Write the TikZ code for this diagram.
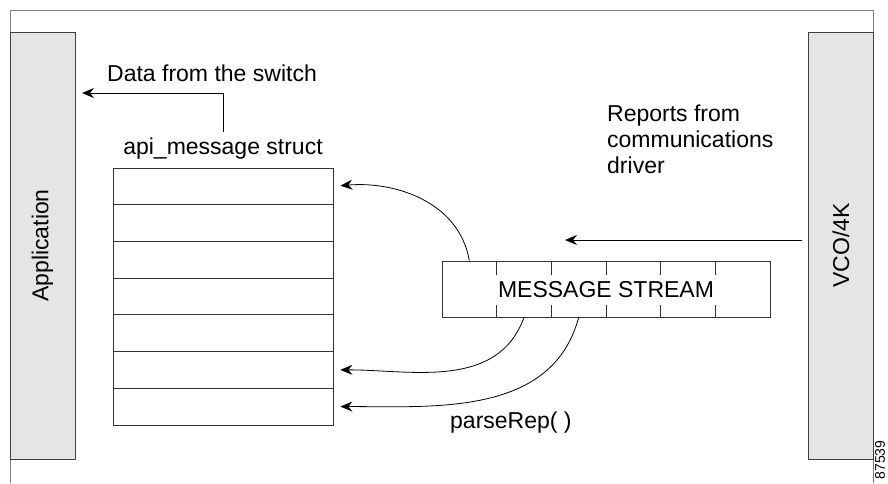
\documentclass[tikz,border=0pt]{standalone}
\usepackage{fontspec}
\setmainfont{Liberation Sans}
\usetikzlibrary{arrows.meta}

\begin{document}
\begin{tikzpicture}[x=1pt,y=1pt,
	txt/.style={font=\fontsize{23}{26}\selectfont, inner sep=0pt},
	side/.style={draw=black!75, fill=black!10, line width=0.8pt, rotate=90,
		minimum width=427pt, minimum height=65pt, inner sep=0pt, font=\fontsize{23}{26}\selectfont},
	row/.style={draw=black!80, line width=0.8pt, minimum width=220pt, minimum height=36.7pt, inner sep=0pt},
	cell/.style={draw=black!80, line width=0.8pt, minimum width=54.67pt, minimum height=56pt, inner sep=0pt},
	flow/.style={-{Stealth[length=12pt,width=10pt,inset=4pt]}, line width=0.8pt}]
	\useasboundingbox (0,0) rectangle (888,483);
	% frame
	\draw[black!50, line width=0.8pt] (10,0) -- (10,473) -- (873,473) -- (873,0);

	\node[side] (app) at (42.5,237.5) {Application};
	\node[side] (vco) at (841,237.5) {VCO/4K};

	% api_message struct
	\node[txt] (lbl) at (223,334) {api\_message struct};
	\foreach \i in {1,...,7}
		\node[row] (r\i) at (223,333.35-36.7*\i) {};
	\node[txt, anchor=base west] (dat) at (107,401) {Data from the switch};
	\coordinate (dtip) at (82,390);
	\draw[flow, shorten <=6pt] (lbl.north) |- (dtip);

	% message stream
	\foreach \i in {1,...,6}
		\node[cell] (c\i) at (442+54.67*\i-27.33,194) {};
	\node[txt, fill=white, inner xsep=2pt, inner ysep=6.7pt] (ms) at (606,193) {MESSAGE STREAM};

	\node[txt, anchor=base west, align=left] (rep) at (607,310) {Reports from\\communications\\driver};
	\coordinate (rtail) at (802,243);
	\coordinate (rtip) at (565,243);
	\draw[flow] (rtail) -- (rtip);

	\draw[flow, shorten >=7pt] (c1.north) to[out=100,in=5] (r1.east);
	\draw[flow, shorten >=7pt] (c2.south) to[out=-110,in=0] (r6.east);
	\draw[flow, shorten >=7pt] (c3.south) to[out=-105,in=0] (r7.east);
	\node[txt, anchor=base west] (prs) at (450,55) {parseRep( )};

	\node[rotate=90, font=\fontsize{14}{14}\selectfont, inner sep=0pt] (num) at (880,23) {87539};
\end{tikzpicture}
\end{document}
